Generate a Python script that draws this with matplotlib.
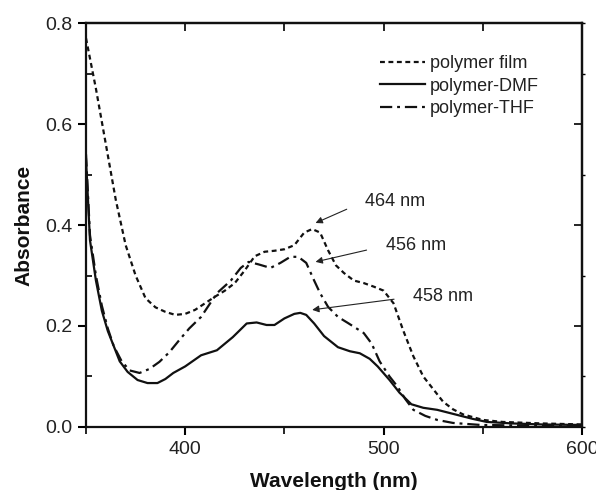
import matplotlib
matplotlib.use("Agg")
import matplotlib.pyplot as plt
from matplotlib.ticker import MultipleLocator

plt.rcParams['font.family'] = ['Liberation Sans', 'DejaVu Sans']

# polymer film (short dashes)
film_x = [350, 355, 360, 365, 370, 375, 380, 385, 390, 395, 400, 405, 410, 415, 420,
          425, 430, 435, 440, 445, 450, 455, 460, 464, 468, 472, 476, 480, 485, 490,
          495, 500, 505, 510, 515, 520, 525, 530, 535, 540, 550, 560, 580, 600]
film_y = [0.77, 0.67, 0.56, 0.45, 0.36, 0.30, 0.255, 0.237, 0.228, 0.222, 0.224, 0.232,
          0.245, 0.258, 0.27, 0.285, 0.31, 0.338, 0.347, 0.349, 0.352, 0.36, 0.385, 0.392,
          0.385, 0.35, 0.32, 0.305, 0.29, 0.285, 0.278, 0.27, 0.245, 0.19, 0.14, 0.10,
          0.075, 0.05, 0.035, 0.025, 0.014, 0.01, 0.007, 0.005]

# polymer in DMF (solid)
dmf_x = [350, 352, 355, 358, 361, 364, 367, 371, 376, 381, 386, 390, 394, 400, 408, 416,
         424, 431, 436, 441, 445, 450, 455, 458, 461, 465, 470, 477, 483, 488, 493, 497,
         503, 508, 514, 520, 527, 537, 545, 552, 565, 580, 600]
dmf_y = [0.53, 0.37, 0.29, 0.23, 0.19, 0.16, 0.13, 0.109, 0.093, 0.087, 0.087, 0.095,
         0.107, 0.12, 0.142, 0.152, 0.178, 0.205, 0.207, 0.202, 0.202, 0.215, 0.224, 0.226,
         0.222, 0.205, 0.18, 0.158, 0.15, 0.146, 0.135, 0.12, 0.093, 0.068, 0.045, 0.038,
         0.034, 0.024, 0.016, 0.01, 0.007, 0.005, 0.004]

# polymer in THF (dash-dot)
thf_x = [350, 352, 355, 358, 361, 364, 368, 372, 377, 382, 387, 392, 397, 402, 408, 416,
         423, 428, 432, 437, 443, 448, 453, 457, 461, 465, 468, 472, 477, 482, 486, 490,
         494, 498, 503, 507, 511, 515, 521, 527, 535, 549, 570, 600]
thf_y = [0.54, 0.38, 0.30, 0.24, 0.195, 0.16, 0.13, 0.112, 0.107, 0.115, 0.129, 0.148,
         0.172, 0.195, 0.218, 0.265, 0.29, 0.315, 0.327, 0.322, 0.315, 0.325, 0.337, 0.337,
         0.325, 0.29, 0.265, 0.238, 0.218, 0.206, 0.196, 0.186, 0.165, 0.13, 0.1, 0.08,
         0.055, 0.034, 0.022, 0.014, 0.008, 0.004, 0.003, 0.002]

peak_labels = ['464 nm', '456 nm', '458 nm']
peak_tips = [(465.7, 0.404), (465.7, 0.327), (464.0, 0.232)]
peak_text = [(490.5, 0.447), (501.0, 0.359), (515.0, 0.258)]

fig = plt.figure(figsize=(5.96, 4.90), dpi=100)
ax = fig.add_axes([0.1443, 0.1286, 0.8322, 0.8244])

ax.plot(film_x, film_y, color='#111111', lw=1.6, linestyle=(0, (2.2, 1.6)), label='polymer film')
ax.plot(dmf_x, dmf_y, color='#111111', lw=1.6, label='polymer-DMF')
ax.plot(thf_x, thf_y, color='#111111', lw=1.6, linestyle=(0, (5.5, 2.2, 1.3, 2.2)), label='polymer-THF')

for lab, tip, txt in zip(peak_labels, peak_tips, peak_text):
    ax.annotate(lab, xy=tip, xytext=txt, fontsize=13, color='#222222', va='center', ha='left',
                arrowprops=dict(arrowstyle='-|>', color='#222222', lw=0.8,
                                shrinkA=12, shrinkB=0, mutation_scale=10,
                                relpos=(0, 0.5)))

ax.set_xlim(350, 600)
ax.set_ylim(0, 0.8)
ax.xaxis.set_major_locator(MultipleLocator(100))
ax.xaxis.set_minor_locator(MultipleLocator(50))
ax.yaxis.set_major_locator(MultipleLocator(0.2))
ax.yaxis.set_minor_locator(MultipleLocator(0.1))
ax.xaxis.set_major_formatter(matplotlib.ticker.FuncFormatter(lambda v, p: '' if v < 390 else '%d' % v))
ax.yaxis.set_major_formatter(matplotlib.ticker.FormatStrFormatter('%.1f'))

ax.tick_params(which='major', direction='out', length=6, width=1.5, labelsize=14,
               labelcolor='#222222', pad=4)
ax.tick_params(which='minor', direction='out', length=5, width=1.2)
ax.tick_params(axis='y', which='minor', direction='in', length=4)

secx = ax.secondary_xaxis('top')
secx.set_xticks([400, 500])
secx.xaxis.set_minor_locator(MultipleLocator(50))
secx.tick_params(which='both', direction='in', length=6, width=1.2, labeltop=False)
secy = ax.secondary_yaxis('right')
secy.set_yticks([0.2, 0.4, 0.6])
secy.yaxis.set_minor_locator(MultipleLocator(0.1))
secy.tick_params(which='major', direction='in', length=6, width=1.2, labelright=False)
secy.tick_params(which='minor', direction='out', length=2, width=1.0)
for s in (secx, secy):
    for sp in s.spines.values():
        sp.set_linewidth(1.6)

for sp in ax.spines.values():
    sp.set_linewidth(1.6)
    sp.set_color('#111111')

ax.set_xlabel('Wavelength (nm)', fontsize=15, fontweight='bold', labelpad=10, color='#111111')
ax.set_ylabel('Absorbance', fontsize=15, fontweight='bold', labelpad=8, color='#111111')

leg = ax.legend(loc='upper left', bbox_to_anchor=(0.593, 0.92), frameon=False, fontsize=13,
                handlelength=2.5, handletextpad=0.25, labelspacing=0.3,
                borderpad=0, borderaxespad=0)
for t in leg.get_texts():
    t.set_color('#222222')

fig.savefig('out.png', dpi=100)
